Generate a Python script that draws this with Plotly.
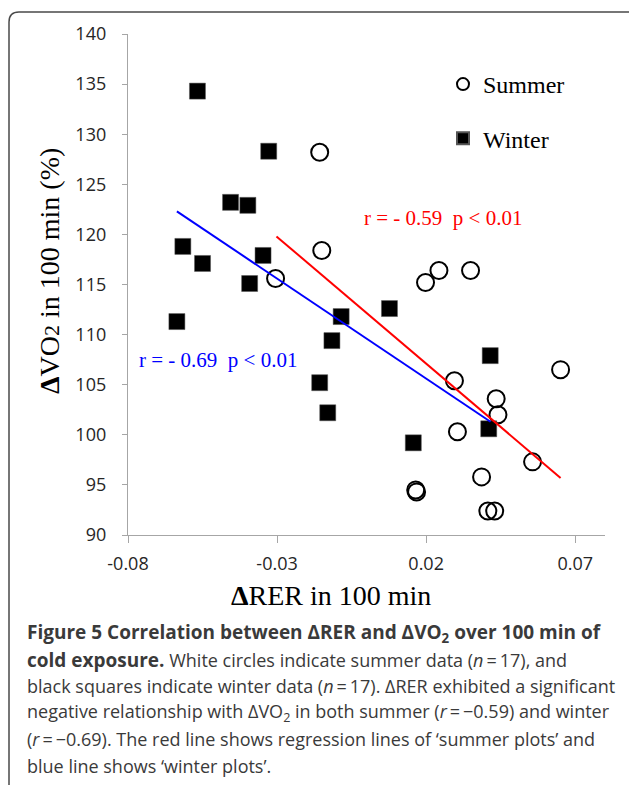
import plotly.graph_objects as go

# ---------------- data ----------------
summer_x = [-0.0157, -0.0150, -0.0305, 0.0243, 0.0198, 0.0349, 0.0651, 0.0295, 0.0435,
            0.0441, 0.0305, 0.0557, 0.0386, 0.0165, 0.0168, 0.0407, 0.0430]
summer_y = [128.2, 118.4, 115.6, 116.4, 115.2, 116.4, 106.5, 105.4, 103.6,
            102.0, 100.3, 97.3, 95.8, 94.5, 94.3, 92.4, 92.4]
winter_x = [-0.0567, -0.0328, -0.0456, -0.0398, -0.0616, -0.0550, -0.0347, -0.0392, -0.0636,
            -0.0085, -0.0116, -0.0157, -0.0130, 0.0077, 0.0415, 0.0410, 0.0157]
winter_y = [134.3, 128.3, 123.2, 122.9, 118.8, 117.1, 117.9, 115.1, 111.3,
            111.8, 109.4, 105.2, 102.2, 112.6, 107.9, 100.6, 99.2]

# regression (trend) lines, end points
summer_fit_x = [-0.0302, 0.0651]
summer_fit_y = [119.8, 95.7]
winter_fit_x = [-0.0636, 0.0416]
winter_fit_y = [122.3, 101.3]

x_ticks = [-0.08, -0.03, 0.02, 0.07]
x_tick_labels = ["-0.08", "-0.03", "0.02", "0.07"]
y_ticks = [90, 95, 100, 105, 110, 115, 120, 125, 130, 135, 140]

summer_label = "Summer"
winter_label = "Winter"
summer_stat = "r = - 0.59\u00a0\u00a0p < 0.01"
winter_stat = "r = - 0.69\u00a0\u00a0p < 0.01"

B = "<span style='font-size:19px'><b>{}</b></span>"
caption_lines = [
    B.format("Figure 5 Correlation between ΔRER and ΔVO<sub>2</sub> over 100 min of"),
    B.format("cold exposure.") + " White circles indicate summer data (<i>n</i>\u2009=\u200917), and",
    "black squares indicate winter data (<i>n</i>\u2009=\u200917). ΔRER exhibited a significant",
    "negative relationship with ΔVO<sub>2</sub> in both summer (<i>r</i>\u2009=\u2009\u22120.59) and winter",
    "(<i>r</i>\u2009=\u2009\u22120.69). The red line shows regression lines of ‘summer plots’ and",
    "blue line shows ‘winter plots’.",
]

# ---------------- layout geometry ----------------
W, H = 629, 785
ML, MR, MT, MB = 128, 24, 34, 250

def px_x(px):
    return (px - ML) / (W - ML - MR)

def px_y(py):
    return (H - MB - py) / (H - MT - MB)

SERIF = "Liberation Serif, Times New Roman, serif"
SANS = "Open Sans, sans-serif"

fig = go.Figure()

fig.add_trace(go.Scatter(
    x=summer_x, y=summer_y, mode="markers", name=summer_label,
    legendgroup="s",
    marker=dict(symbol="circle", size=17, color="rgba(255,255,255,0)",
                line=dict(color="#000000", width=2)),
))
fig.add_trace(go.Scatter(
    x=winter_x, y=winter_y, mode="markers", name=winter_label,
    legendgroup="w",
    marker=dict(symbol="square", size=16, color="#000000",
                line=dict(color="#555555", width=0.5)),
))
fig.add_trace(go.Scatter(
    x=summer_fit_x, y=summer_fit_y, mode="lines", showlegend=False,
    line=dict(color="#ff0000", width=2),
))
fig.add_trace(go.Scatter(
    x=winter_fit_x, y=winter_fit_y, mode="lines", showlegend=False,
    line=dict(color="#0000ff", width=2),
))

axis_common = dict(
    showgrid=False, zeroline=False, showline=True, linecolor="#a6a6a6", linewidth=1.3,
    ticks="outside", tickcolor="#a6a6a6", tickwidth=1.3,
    tickfont=dict(family=SANS, size=18, color="#262626"),
)

fig.update_xaxes(range=[-0.08, 0.08], tickvals=x_ticks, ticktext=x_tick_labels,
                 ticklen=7, ticklabelstandoff=5, **axis_common)
fig.update_yaxes(range=[90, 140], tickvals=y_ticks, ticklen=5,
                 ticklabelstandoff=12, **axis_common)

annotations = [
    dict(x=0.0255, y=121.65, xref="x", yref="y", xanchor="center", yanchor="middle",
         text=summer_stat, showarrow=False,
         font=dict(family=SERIF, size=21, color="#ff0000")),
    dict(x=-0.0499, y=107.5, xref="x", yref="y", xanchor="center", yanchor="middle",
         text=winter_stat, showarrow=False,
         font=dict(family=SERIF, size=21, color="#0000ff")),
    dict(x=px_x(331), y=px_y(595), xref="paper", yref="paper", xanchor="center", yanchor="middle",
         text="<b>Δ</b>RER in 100 min", showarrow=False,
         font=dict(family=SERIF, size=28, color="#000000")),
    dict(x=px_x(49), y=px_y(271), xref="paper", yref="paper", xanchor="center", yanchor="middle",
         textangle=-90,
         text="<b>Δ</b>VO<span style='font-size:22px'>2</span> in 100 min (%)", showarrow=False,
         font=dict(family=SERIF, size=28, color="#000000")),
]

line_centers = [633, 659.5, 686, 712.5, 739, 765.5]
for txt, cy in zip(caption_lines, line_centers):
    annotations.append(dict(
        x=px_x(25), y=px_y(cy), xref="paper", yref="paper", xanchor="left", yanchor="middle",
        text=txt, showarrow=False, align="left",
        font=dict(family=SANS, size=18, color="#3a3a3a"),
    ))

# frame (rounded border around the figure)
r = 10
frame_path = (
    f"M {px_x(660)},{px_y(795)} L {px_x(9 + r)},{px_y(795)} "
    f"Q {px_x(9)},{px_y(795)} {px_x(9)},{px_y(795 - r)} "
    f"L {px_x(9)},{px_y(12 + r)} Q {px_x(9)},{px_y(12)} {px_x(9 + r)},{px_y(12)} "
    f"L {px_x(660)},{px_y(12)}"
)

fig.update_layout(
    width=W, height=H,
    margin=dict(l=ML, r=MR, t=MT, b=MB, pad=0),
    paper_bgcolor="#ffffff", plot_bgcolor="#ffffff",
    showlegend=True,
    legend=dict(x=px_x(443), y=px_y(62), xanchor="left", yanchor="top",
                font=dict(family=SERIF, size=24, color="#000000"),
                bgcolor="rgba(255,255,255,0)", tracegroupgap=20,
                traceorder="grouped", itemsizing="constant"),
    annotations=annotations,
    shapes=[dict(type="path", xref="paper", yref="paper", path=frame_path,
                 line=dict(color="#4a4a4a", width=1.5))],
)

fig.write_html("out.html")
